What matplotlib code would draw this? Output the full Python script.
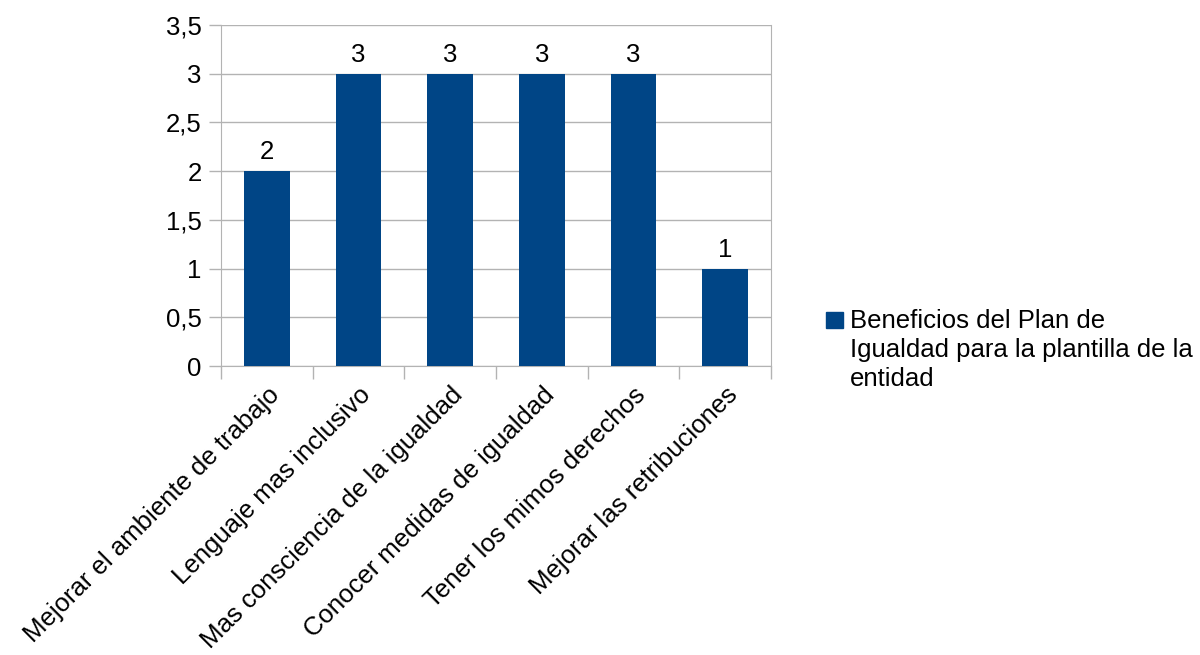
import matplotlib
matplotlib.use("Agg")
import matplotlib.pyplot as plt
from matplotlib.patches import Rectangle

plt.rcParams['font.family'] = ['Liberation Sans', 'DejaVu Sans']

# Data
categorias = ["Mejorar el ambiente de trabajo", "Lenguaje mas inclusivo",
              "Mas consciencia de la igualdad", "Conocer medidas de igualdad",
              "Tener los mimos derechos", "Mejorar las retribuciones"]
valores = [2, 3, 3, 3, 3, 1]
serie = "Beneficios del Plan de\nIgualdad para la plantilla de la\nentidad"
yticks = [0, 0.5, 1, 1.5, 2, 2.5, 3, 3.5]
yticklabels = ["0", "0,5", "1", "1,5", "2", "2,5", "3", "3,5"]

color = "#004586"
gris = "#b3b3b3"
fs = 18.5

fig = plt.figure(figsize=(12, 6.55), dpi=100)
ax = fig.add_axes([0.1842, 0.4412, 0.4583, 0.5206])

x = list(range(len(categorias)))
bars = ax.bar(x, valores, width=0.5, color=color, zorder=3)
for b, v in zip(bars, valores):
    ax.text(b.get_x() + b.get_width() / 2, v + 0.07, str(v),
            ha="center", va="bottom", fontsize=fs)

ax.set_xlim(-0.5, len(categorias) - 0.5)
ax.set_ylim(0, 3.5)
ax.set_yticks(yticks)
ax.set_yticklabels(yticklabels, fontsize=fs)
ax.yaxis.grid(True, color=gris, linewidth=1, zorder=0)

# ticks between categories, labels at centers
ax.set_xticks([i - 0.5 for i in range(len(categorias) + 1)])
ax.set_xticklabels([])
ax.set_xticks(x, minor=True)
ax.set_xticklabels(categorias, minor=True, rotation=45, ha="right",
                   rotation_mode="anchor", fontsize=fs)
ax.tick_params(axis="x", which="minor", length=0, pad=12)
ax.tick_params(axis="x", which="major", length=9, color=gris, width=1)
ax.tick_params(axis="y", length=9, color=gris, width=1, pad=5)

for s in ["left", "right", "bottom"]:
    ax.spines[s].set_color(gris)
ax.spines["top"].set_visible(False)

# legend
fig.patches.append(Rectangle((826 / 1200, 1 - 328 / 655), 17 / 1200, 16 / 655,
                             transform=fig.transFigure, color=color))
fig.text(850 / 1200, 1 - 309 / 655, serie, ha="left", va="top",
         fontsize=fs, linespacing=1.27)

fig.savefig("out.png", dpi=100)
